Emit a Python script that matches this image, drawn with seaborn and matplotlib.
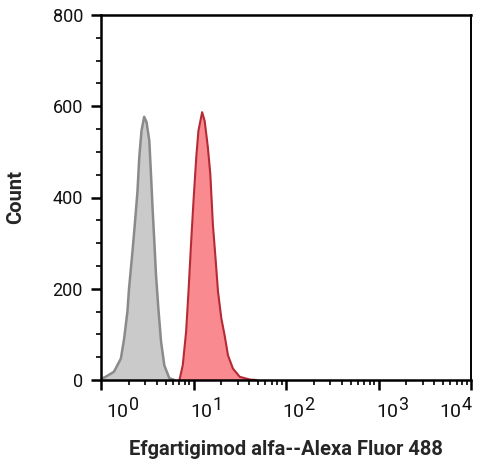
import numpy as np
import pandas as pd
import seaborn as sns
import matplotlib
matplotlib.use("Agg")
import matplotlib.pyplot as plt
import matplotlib._mathtext as _mt
from matplotlib.ticker import LogLocator, MultipleLocator, NullFormatter
from matplotlib.transforms import ScaledTranslation

_mt.SHRINK_FACTOR = 0.92

# Control (isotype) histogram
control_x = [1.00, 1.03, 1.10, 1.38, 1.64, 1.78, 1.93, 2.01, 2.19, 2.32, 2.48, 2.59, 2.74, 2.93,
             3.11, 3.33, 3.47, 3.61, 3.77, 3.93, 4.17, 4.46, 4.84, 5.48, 6.21]
control_count = [4, 4, 6, 18, 47, 91, 150, 201, 282, 341, 414, 487, 546, 577,
                 565, 524, 451, 377, 304, 231, 157, 84, 32, 4, 0]

# Efgartigimod alfa stained histogram
stained_x = [7.05, 7.65, 8.32, 8.83, 9.44, 10.0, 10.7, 11.3, 12.4, 13.2, 14.3, 15.2, 16.2,
             17.3, 18.4, 20.0, 21.7, 23.6, 26.7, 31.6, 40.6, 47.9]
stained_count = [0, 32, 106, 194, 304, 392, 487, 546, 587, 568, 510, 451, 341,
                 267, 194, 135, 98, 54, 25, 7, 1, 0]

x_ticks = [1, 10, 100, 1000, 10000]
x_tick_labels = [r"$10^{0}$", r"$10^{1}$", r"$10^{2}$", r"$10^{3}$", r"$10^{4}$"]
y_ticks = [0, 200, 400, 600, 800]

sns.set_style("ticks")
plt.rcParams["font.family"] = ["Roboto", "DejaVu Sans"]
plt.rcParams["mathtext.fontset"] = "custom"
plt.rcParams["mathtext.rm"] = "Roboto"
plt.rcParams["mathtext.it"] = "Roboto"
plt.rcParams["mathtext.bf"] = "Roboto"

fig = plt.figure(figsize=(4.88, 4.68), dpi=100)
ax = fig.add_axes([101 / 488, 1 - 380 / 468, 370 / 488, 365 / 468])

df_c = pd.DataFrame({"x": control_x, "count": control_count})
df_s = pd.DataFrame({"x": stained_x, "count": stained_count})

ax.fill_between(df_c["x"], df_c["count"], 0, color="#cacaca", lw=0)
sns.lineplot(data=df_c, x="x", y="count", ax=ax, color="#8a8a8a", lw=1.8, sort=False)
ax.fill_between(df_s["x"], df_s["count"], 0, color="#f98a8f", lw=0)
sns.lineplot(data=df_s, x="x", y="count", ax=ax, color="#b52a35", lw=1.5, sort=False)

ax.set_xscale("log")
ax.set_xlim(1, 10000)
ax.set_ylim(0, 800)

ax.set_yticks(y_ticks)
ax.yaxis.set_minor_locator(MultipleLocator(50))
ax.set_xticks(x_ticks)
ax.set_xticklabels(x_tick_labels)
ax.xaxis.set_minor_locator(LogLocator(base=10, subs=np.arange(2, 10)))
ax.xaxis.set_minor_formatter(NullFormatter())

for s in ax.spines.values():
    s.set_visible(True)
    s.set_color("black")
    s.set_linewidth(1.8)
ax.spines["right"].set_linewidth(1.4)

ax.tick_params(axis="both", which="major", direction="out", length=7, width=1.8,
               color="black", labelcolor="#111111")
ax.tick_params(axis="y", which="major", labelsize=13, pad=6)
ax.tick_params(axis="x", which="major", labelsize=14, pad=5)
ax.tick_params(axis="both", which="minor", direction="out", length=3.5, width=1.2, color="black")

offsets = [22, 12, 13, 14, -15]
for lab, dx in zip(ax.get_xticklabels(), offsets):
    lab.set_transform(lab.get_transform() + ScaledTranslation(dx / 100, 0, fig.dpi_scale_trans))

ax.set_xlabel("Efgartigimod alfa--Alexa Fluor 488", fontsize=14.5, fontweight="bold", labelpad=13)
ax.set_ylabel("Count", fontsize=14.5, fontweight="bold", labelpad=20)

fig.savefig("out.png", dpi=100)
